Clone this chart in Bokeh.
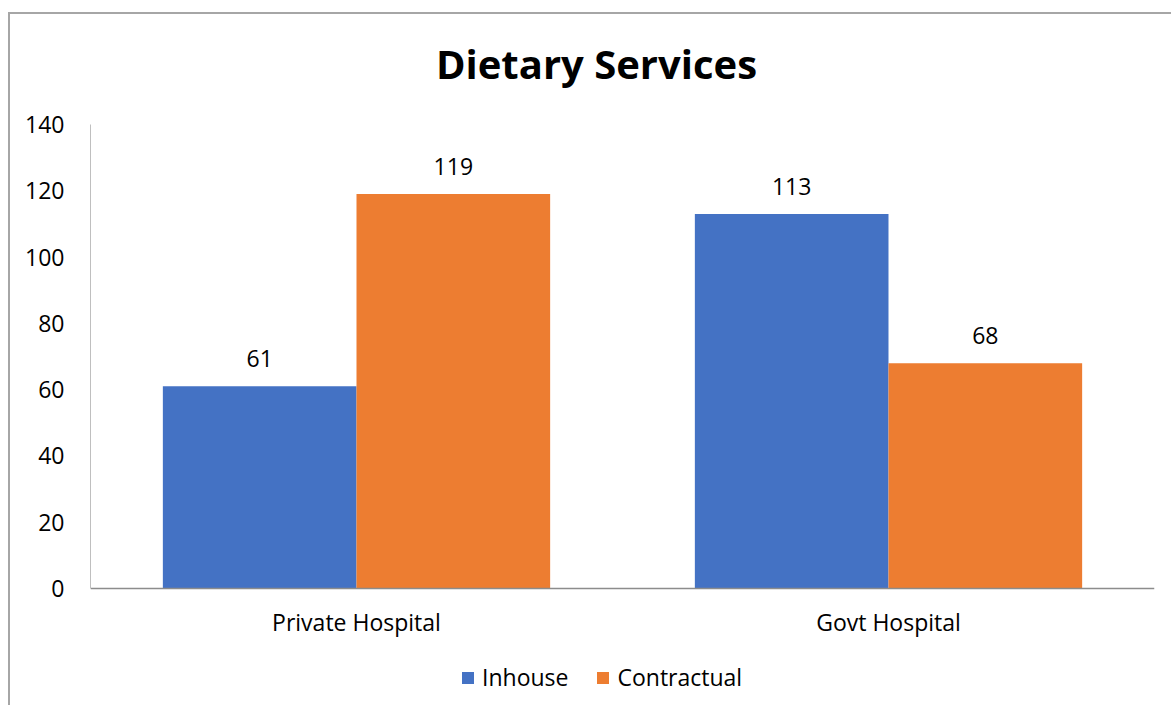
from bokeh.plotting import figure
from bokeh.models import (ColumnDataSource, FactorRange, Legend, LegendItem, Range1d,
                          CategoricalAxis, Label)
from bokeh.transform import dodge
from bokeh.embed import file_html
from bokeh.resources import INLINE
from bokeh.core.properties import value

categories = ["Private Hospital", "Govt Hospital"]
inhouse = [61, 113]
contractual = [119, 68]
series_names = ["Inhouse", "Contractual"]
colors = ["#4472C4", "#ED7D31"]
y_ticks = [0, 20, 40, 60, 80, 100, 120, 140]
title_text = "Dietary Services"

src = ColumnDataSource(dict(cat=categories, inhouse=inhouse, contractual=contractual,
                            inhouse_lbl=[str(v) for v in inhouse],
                            contractual_lbl=[str(v) for v in contractual]))

FONT = "Open Sans"
FS = "23px"

# layout geometry (pixels)
frame_w = 1064
axis_px = 464            # pixels spanned by 0..140
above_px = 110           # frame space above the 140 line (room for the title)
below_px = 117           # frame space below 0 (category labels + legend)
ppu = axis_px / 140.0
y_top = 140 + above_px / ppu
y_bot = -below_px / ppu
frame_h = above_px + axis_px + below_px

p = figure(x_range=FactorRange(*categories), y_range=Range1d(y_bot, y_top),
           x_axis_location=None,
           width=80 + frame_w + 17, height=frame_h, output_backend="svg", toolbar_location=None,
           frame_width=frame_w, frame_height=frame_h,
           min_border_left=80, min_border_top=0, min_border_right=17, min_border_bottom=0,
           styles={"border-left": "2px solid #A6A6A6", "border-top": "2px solid #A6A6A6",
                   "margin-top": "12px", "margin-left": "8px"})

bw = 0.364
r1 = p.vbar(x=dodge("cat", -bw / 2, range=p.x_range), top="inhouse", bottom=0, width=bw,
            source=src, color=colors[0], line_color=None)
r2 = p.vbar(x=dodge("cat", bw / 2, range=p.x_range), top="contractual", bottom=0, width=bw,
            source=src, color=colors[1], line_color=None)

p.text(x=dodge("cat", -bw / 2, range=p.x_range), y="inhouse", text="inhouse_lbl", source=src,
       text_align="center", text_baseline="bottom", y_offset=-19,
       text_font=value(FONT), text_font_size=FS, text_color="#000000")
p.text(x=dodge("cat", bw / 2, range=p.x_range), y="contractual", text="contractual_lbl", source=src,
       text_align="center", text_baseline="bottom", y_offset=-19,
       text_font=value(FONT), text_font_size=FS, text_color="#000000")

title = Label(x=(596 - 90) / (frame_w / 2), y=140 + (124 - 63) / ppu, text=title_text,
              text_align="center", text_baseline="middle", text_font=FONT,
              text_font_size="40px", text_font_style="bold", text_color="#000000")
p.add_layout(title)

p.xgrid.grid_line_color = None
p.ygrid.grid_line_color = None
p.outline_line_color = None

p.yaxis.ticker = y_ticks
p.yaxis.bounds = (0, 140)
p.yaxis.axis_line_color = "#BFBFBF"
p.yaxis.major_tick_line_color = None
p.yaxis.minor_tick_line_color = None
p.yaxis.major_label_text_font = FONT
p.yaxis.major_label_text_font_size = FS
p.yaxis.major_label_text_color = "#000000"
p.yaxis.major_label_standoff = 20

xaxis = CategoricalAxis(fixed_location=0)
xaxis.axis_line_color = "#8C8C8C"
xaxis.axis_line_width = 1.5
xaxis.major_tick_line_color = None
xaxis.minor_tick_line_color = None
xaxis.major_label_text_font = FONT
xaxis.major_label_text_font_size = FS
xaxis.major_label_text_color = "#000000"
xaxis.major_label_standoff = 11
p.add_layout(xaxis, "below")

legend = Legend(items=[LegendItem(label=series_names[0], renderers=[r1]),
                       LegendItem(label=series_names[1], renderers=[r2])],
                orientation="horizontal", location=(370, 12),
                label_text_font=FONT, label_text_font_size=FS, label_text_color="#000000",
                glyph_width=15, glyph_height=15, spacing=27, border_line_color=None,
                background_fill_alpha=0, margin=0, padding=0, label_standoff=7)
p.add_layout(legend, "center")

open("out.html", "w").write(file_html(p, INLINE))
